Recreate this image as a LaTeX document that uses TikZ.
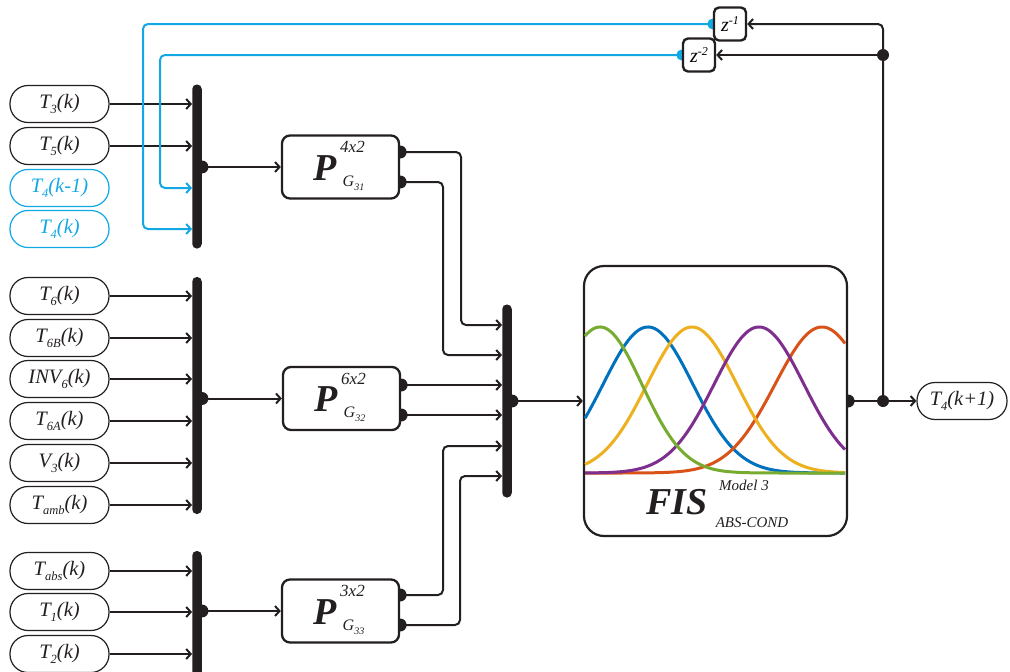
\documentclass[tikz,border=0pt]{standalone}
\usepackage{fontspec}
\setmainfont{Liberation Serif}
\usetikzlibrary{arrows.meta,calc,backgrounds}
\definecolor{cyanl}{RGB}{18,168,228}
\definecolor{mblue}{HTML}{0072BD}
\definecolor{morange}{HTML}{D95319}
\definecolor{myellow}{HTML}{EDB120}
\definecolor{mpurple}{HTML}{7E2F8E}
\definecolor{mgreen}{HTML}{77AC30}
\definecolor{ink}{RGB}{35,31,32}
\newcommand\sbs[1]{\raisebox{-5pt}{\fontsize{12.5}{12.5}\selectfont #1}}
\begin{document}
\begin{tikzpicture}[x=1pt,y=-1pt,
  pill/.style={draw=ink, line width=1.2pt, rounded corners=18pt, minimum width=99pt, minimum height=37pt, inner sep=0pt, font=\fontsize{20.5}{20.5}\selectfont\itshape, text=ink},
  bpill/.style={pill, draw=cyanl, text=cyanl},
  bus/.style={fill=ink, rounded corners=4.5pt, minimum width=9.5pt, inner sep=0pt},
  pbox/.style={draw=ink, line width=2.3pt, rounded corners=8pt, fill=white, minimum width=117pt, minimum height=63pt, inner sep=0pt},
  zbox/.style={draw=ink, line width=2.4pt, rounded corners=5pt, fill=white, minimum width=32pt, minimum height=33pt, inner sep=0pt},
  conn/.style={draw=ink, line width=2pt},
  arr/.style={conn, -{Straight Barb[length=4.5pt,width=10pt]}},
  barr/.style={arr, draw=cyanl},
  dot/.style={fill=ink},
  bigP/.style={font=\fontsize{38}{38}\selectfont\bfseries\itshape, text=ink},
  supl/.style={font=\fontsize{17}{17}\selectfont\itshape, text=ink},
  gcur/.style={line width=3pt, domain=585:845, samples=120, smooth}
]
\useasboundingbox (0,0) rectangle (1010,672);

% ---- group 1 ----
\node[pill]  (t3)  at (59.5,104) {T\sbs{3}(k)};
\node[pill]  (t5)  at (59.5,146) {T\sbs{5}(k)};
\node[bpill] (t4m) at (59.5,188) {T\sbs{4}(k-1)};
\node[bpill] (t4)  at (59.5,229) {T\sbs{4}(k)};
\node[bus, minimum height=164pt] (bus1) at (197,166.5) {};
\draw[arr] (t3) -- (t3 -| bus1.west);
\draw[arr] (t5) -- (t5 -| bus1.west);

% ---- group 2 ----
\node[pill] (t6)  at (59.5,296) {T\sbs{6}(k)};
\node[pill] (t6b) at (59.5,338) {T\sbs{6B}(k)};
\node[pill] (inv) at (59.5,379) {INV\sbs{6}(k)};
\node[pill] (t6a) at (59.5,421) {T\sbs{6A}(k)};
\node[pill] (v3)  at (59.5,463) {V\sbs{3}(k)};
\node[pill] (tam) at (59.5,505) {T\sbs{amb}(k)};
\node[bus, minimum height=237pt] (bus2) at (197,395.5) {};
\foreach \n in {t6,t6b,inv,t6a,v3,tam} \draw[arr] (\n) -- (\n -| bus2.west);

% ---- group 3 ----
\node[pill] (tab) at (59.5,571) {T\sbs{abs}(k)};
\node[pill] (t1)  at (59.5,612) {T\sbs{1}(k)};
\node[pill] (t2)  at (59.5,654) {T\sbs{2}(k)};
\node[bus, minimum height=128pt] (bus3) at (197,615) {};
\foreach \n in {tab,t1,t2} \draw[arr] (\n) -- (\n -| bus3.west);

% ---- P blocks ----
\node[pbox] (p31) at (340.5,167) {};
\node[pbox] (p32) at (341.5,398.5) {};
\node[pbox] (p33) at (340.5,611) {};
\foreach \p/\s/\g in {p31/4x2/31, p32/6x2/32, p33/3x2/33}{
  \node[bigP] (\p P) at ($(\p.center)+(-15,1)$) {P};
  \node[supl] (\p s) at ($(\p.center)+(12,-20)$) {\s};
  \node[font=\fontsize{16}{16}\selectfont\itshape, text=ink] (\p g) at ($(\p.center)+(13,16)$) {G\raisebox{-4pt}{\fontsize{10}{10}\selectfont \g}};
}

% bus -> P
\coordinate (b1o) at (bus1.east |- p31.west);
\coordinate (b2o) at (bus2.east |- p32.west);
\coordinate (b3o) at (bus3.east |- p33.west);
\draw[arr] (b1o) -- (p31.west);
\draw[arr] (b2o) -- (p32.west);
\draw[arr] (b3o) -- (p33.west);

% ports
\coordinate (p31a) at ($(p31.east)+(0,-15)$);
\coordinate (p31b) at ($(p31.east)+(0,15)$);
\coordinate (p32a) at ($(p32.east)+(0,-13.5)$);
\coordinate (p32b) at ($(p32.east)+(0,16.5)$);
\coordinate (p33a) at ($(p33.east)+(0,-16)$);
\coordinate (p33b) at ($(p33.east)+(0,14)$);

% ---- merge bus ----
\node[bus, minimum height=193pt] (busm) at (507,401) {};
\coordinate (m1) at (461,325);
\coordinate (m2) at (443,355);
\coordinate (m5) at (443,446);
\coordinate (m6) at (460,476);
\draw[arr, rounded corners=5pt] (p31a) -| (m1) -- (m1 -| busm.west);
\draw[arr, rounded corners=5pt] (p31b) -| (m2) -- (m2 -| busm.west);
\draw[arr] (p32a) -- (p32a -| busm.west);
\draw[arr] (p32b) -- (p32b -| busm.west);
\draw[arr, rounded corners=5pt] (p33a) -| (m5) -- (m5 -| busm.west);
\draw[arr, rounded corners=5pt] (p33b) -| (m6) -- (m6 -| busm.west);

% ---- FIS ----
\node[draw=ink, line width=2.2pt, rounded corners=20pt, fill=white, minimum width=263pt, minimum height=270pt, inner sep=0pt] (fis) at (715.5,401) {};
\draw[arr] (busm.east) -- (fis.west);
\draw[gcur, mblue]   plot (\x, {473-146*exp(-0.5*((\x-648)/45)^2)});
\draw[gcur, morange] plot (\x, {473-146*exp(-0.5*((\x-822)/47)^2)});
\draw[gcur, myellow] plot (\x, {473-146*exp(-0.5*((\x-692)/45)^2)});
\draw[gcur, mpurple] plot (\x, {473-146*exp(-0.5*((\x-759)/45)^2)});
\draw[gcur, mgreen]  plot (\x, {473-146*exp(-0.5*((\x-600)/42)^2)});
\node[bigP] (fisl) at (677,502) {FIS};
\node[font=\fontsize{15}{15}\selectfont\itshape, text=ink] (fism) at (744,485) {Model 3};
\node[font=\fontsize{15}{15}\selectfont\itshape, text=ink] (fisa) at (752,523) {ABS-COND};

% ---- output ----
\node[pill, minimum width=90pt] (out) at (962,401) {T\sbs{4}(k+1)};
\coordinate (j1) at (883,401);
\coordinate (j2) at (883,55);
\draw[conn] (fis.east) -- (j1);
\draw[arr] (j1) -- (out.west);

% ---- delays ----
\node[zbox] (z1) at (730,24) {\fontsize{20}{20}\selectfont\itshape z\raisebox{7pt}{\fontsize{12}{12}\selectfont -1}};
\node[zbox] (z2) at (699,55) {\fontsize{20}{20}\selectfont\itshape z\raisebox{7pt}{\fontsize{12}{12}\selectfont -2}};
\draw[arr, rounded corners=5pt] (j1) |- (z1.east);
\draw[arr] (j2) -- (z2.east);
\fill[dot] (j1) circle (6pt);
\fill[dot] (j2) circle (6pt);

\coordinate (c1) at (143,229);
\coordinate (c2) at (160,188);
\draw[barr, rounded corners=5pt] (z1.west) -| (c1) -- (t4 -| bus1.west);
\draw[barr, rounded corners=5pt] (z2.west) -| (c2) -- (t4m -| bus1.west);

% ---- port dots (behind boxes) ----
\begin{pgfonlayer}{background}
  \foreach \c in {p31a,p31b,p32a,p32b,p33a,p33b} \fill[dot] (\c) circle (6.5pt);
  \fill[dot] (bus1.east |- p31.west) circle (6.5pt);
  \fill[dot] (bus2.east |- p32.west) circle (6.5pt);
  \fill[dot] (bus3.east |- p33.west) circle (6.5pt);
  \fill[dot] (busm.east) circle (6.5pt);
  \fill[dot] (fis.east) circle (6.5pt);
  \fill[cyanl] (z1.west) circle (5.5pt);
  \fill[cyanl] (z2.west) circle (5.5pt);
\end{pgfonlayer}
\end{tikzpicture}
\end{document}
